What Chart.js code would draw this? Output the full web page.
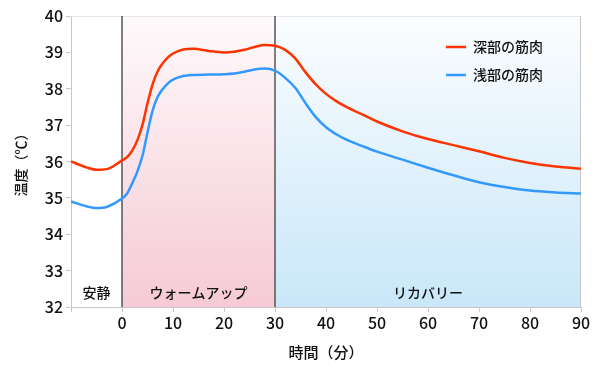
<!DOCTYPE html>
<html>
<head>
<meta charset="utf-8">
<script src="https://cdn.jsdelivr.net/npm/chart.js@4.4.0/dist/chart.umd.min.js"></script>
<style>
  html, body { margin: 0; padding: 0; background: #fff; }
</style>
</head>
<body>
<canvas id="myChart" width="600" height="375"></canvas>
<script>
// データ
const times = [-10, -7, -5, -3, 0, 1, 2, 3, 4, 5, 6, 7, 8, 9, 10, 12, 14, 17, 20, 22, 24, 26, 28, 30,
  32, 34, 36, 38, 40, 42, 44, 47, 50, 55, 60, 65, 70, 75, 80, 85, 90];
const deepMuscle = [36.0, 35.84, 35.77, 35.79, 36.03, 36.12, 36.3, 36.58, 37.0, 37.6, 38.12, 38.48, 38.7, 38.86, 38.97,
  39.08, 39.1, 39.04, 39.0, 39.02, 39.07, 39.15, 39.2, 39.18,
  39.07, 38.83, 38.45, 38.12, 37.86, 37.66, 37.5, 37.3, 37.1,
  36.83, 36.62, 36.45, 36.28, 36.1, 35.96, 35.86, 35.8];
const shallowMuscle = [34.9, 34.77, 34.72, 34.75, 34.98, 35.12, 35.4, 35.72, 36.15, 36.8, 37.4, 37.78, 37.99, 38.15, 38.25,
  38.35, 38.38, 38.39, 38.4, 38.42, 38.47, 38.53, 38.56, 38.5,
  38.3, 38.02, 37.6, 37.22, 36.94, 36.75, 36.6, 36.43, 36.27,
  36.05, 35.83, 35.62, 35.43, 35.3, 35.2, 35.15, 35.12];
const seriesNames = ['深部の筋肉', '浅部の筋肉'];
const phaseNames = ['安静', 'ウォームアップ', 'リカバリー'];
const phaseBounds = [-10, 0, 30, 90];
const xTicks = [-10, 0, 10, 20, 30, 40, 50, 60, 70, 80, 90];

const FONT = "'Noto Sans CJK JP', 'Noto Sans', sans-serif";
const RED = '#ff3300';
const BLUE = '#3399ff';

// 背景の区間・縦線・区間ラベル・凡例
const phasePlugin = {
  id: 'phases',
  beforeDatasetsDraw(chart) {
    const { ctx, chartArea: a, scales: { x } } = chart;
    ctx.save();
    // ウォームアップ
    let x0 = x.getPixelForValue(phaseBounds[1]);
    let x1 = x.getPixelForValue(phaseBounds[2]);
    let g = ctx.createLinearGradient(0, a.top, 0, a.bottom);
    g.addColorStop(0, '#fefafb');
    g.addColorStop(1, '#f6cad6');
    ctx.fillStyle = g;
    ctx.fillRect(x0, a.top, x1 - x0, a.bottom - a.top);
    // リカバリー
    let x2 = x.getPixelForValue(phaseBounds[3]);
    g = ctx.createLinearGradient(0, a.top, 0, a.bottom);
    g.addColorStop(0, '#fbfdff');
    g.addColorStop(1, '#c9e7f9');
    ctx.fillStyle = g;
    ctx.fillRect(x1, a.top, x2 - x1, a.bottom - a.top);

    // 枠線
    ctx.strokeStyle = '#e6e6e6';
    ctx.lineWidth = 1;
    ctx.beginPath();
    ctx.moveTo(a.left, a.top + 0.5);
    ctx.lineTo(a.right, a.top + 0.5);
    ctx.stroke();
    ctx.strokeStyle = '#c8c8c8';
    ctx.beginPath();
    ctx.moveTo(a.right - 0.5, a.top);
    ctx.lineTo(a.right - 0.5, a.bottom);
    ctx.stroke();

    // 区間の縦線
    ctx.strokeStyle = '#555';
    ctx.lineWidth = 1.5;
    [x0, x1].forEach(px => {
      ctx.beginPath();
      ctx.moveTo(px, a.top);
      ctx.lineTo(px, a.bottom);
      ctx.stroke();
    });

    // 区間ラベル
    ctx.fillStyle = '#111';
    ctx.font = '500 14px ' + FONT;
    ctx.textAlign = 'center';
    ctx.textBaseline = 'middle';
    for (let i = 0; i < phaseNames.length; i++) {
      const cx = (x.getPixelForValue(phaseBounds[i]) + x.getPixelForValue(phaseBounds[i + 1])) / 2;
      ctx.fillText(phaseNames[i], cx, a.bottom - 14);
    }
    ctx.restore();
  },
  afterDraw(chart) {
    const { ctx } = chart;
    ctx.save();
    const cols = [RED, BLUE];
    ctx.font = '500 14px ' + FONT;
    ctx.textAlign = 'left';
    ctx.textBaseline = 'middle';
    for (let i = 0; i < seriesNames.length; i++) {
      const y = 47 + i * 28;
      ctx.strokeStyle = cols[i];
      ctx.lineWidth = 2.5;
      ctx.beginPath();
      ctx.moveTo(446, y);
      ctx.lineTo(466, y);
      ctx.stroke();
      ctx.fillStyle = '#111';
      ctx.fillText(seriesNames[i], 473, y);
    }
    ctx.restore();
  }
};

const ctx = document.getElementById('myChart').getContext('2d');
const chart = new Chart(ctx, {
  type: 'line',
  data: {
    datasets: [
      {
        label: seriesNames[0],
        data: times.map((t, i) => ({ x: t, y: deepMuscle[i] })),
        borderColor: RED,
        borderWidth: 2.5,
        pointRadius: 0,
        cubicInterpolationMode: 'monotone'
      },
      {
        label: seriesNames[1],
        data: times.map((t, i) => ({ x: t, y: shallowMuscle[i] })),
        borderColor: BLUE,
        borderWidth: 2.5,
        pointRadius: 0,
        cubicInterpolationMode: 'monotone'
      }
    ]
  },
  options: {
    responsive: false,
    animation: false,
    layout: { padding: { top: 16, right: 19, left: 0, bottom: 0 } },
    plugins: {
      legend: { display: false },
      tooltip: { enabled: false }
    },
    scales: {
      x: {
        type: 'linear',
        min: -10,
        max: 90,
        afterBuildTicks(scale) { scale.ticks = xTicks.map(v => ({ value: v })); },
        afterFit(scale) { scale.height = 68; },
        ticks: {
          color: '#111',
          font: { family: FONT, size: 16, weight: '500' },
          padding: 1,
          maxRotation: 0,
          callback: v => (v < 0 ? '' : v)
        },
        grid: { drawOnChartArea: false, tickLength: 5, color: '#c8c8c8' },
        border: { color: '#c8c8c8' },
        title: {
          display: true,
          text: '時間（分）',
          color: '#111',
          font: { family: FONT, size: 15, weight: '500' },
          padding: { top: 8, bottom: 14 }
        }
      },
      y: {
        min: 32,
        max: 40,
        afterFit(scale) { scale.width = 71; },
        ticks: {
          stepSize: 1,
          color: '#111',
          font: { family: FONT, size: 16, weight: '500' },
          padding: 3
        },
        grid: { drawOnChartArea: false, tickLength: 5, color: '#c8c8c8' },
        border: { color: '#c8c8c8' },
        title: {
          display: true,
          text: '温度（℃）',
          color: '#111',
          font: { family: FONT, size: 14, weight: '500' },
          padding: { top: 12, bottom: 0 }
        }
      }
    }
  },
  plugins: [phasePlugin]
});
</script>
</body>
</html>
